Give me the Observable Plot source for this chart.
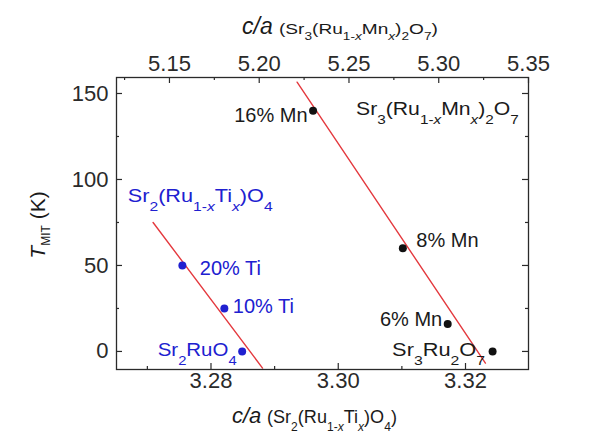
<!DOCTYPE html>
<html><head><meta charset="utf-8">
<script src="https://cdn.jsdelivr.net/npm/d3@7"></script>
<script src="https://cdn.jsdelivr.net/npm/@observablehq/plot@0.6"></script>
<style>
html,body{margin:0;padding:0;background:#fff;}
#chart{width:606px;height:443px;}
svg text{white-space:pre;}
</style></head><body><div id="chart"></div>
<script>
// ---- Data ----
const mnLabels = ["16% Mn", "8% Mn", "6% Mn", "Sr_{3}Ru_{2}O_{7}"];
const mnCA = [5.230, 5.280, 5.305, 5.330];      // top axis c/a (Sr3(Ru1-xMnx)2O7)
const mnT = [140, 60, 16, 0];
const tiLabels = ["20% Ti", "10% Ti", "Sr_{2}RuO_{4}"];
const tiCA = [3.2755, 3.2821, 3.2849];          // bottom axis c/a (Sr2(Ru1-xTix)O4)
const tiT = [50, 25, 0];
const mnFitCA = [5.2211, 5.3260];
const mnFitT = [156.6, -6.8];
const tiFitCA = [3.2709, 3.2881];
const tiFitT = [75, -9.7];
const bottomTicks = [3.28, 3.30, 3.32];
const bottomMinor = [3.27, 3.29, 3.31];
const topTicks = [5.15, 5.20, 5.25, 5.30, 5.35];
const topMinor = [5.125, 5.175, 5.225, 5.275, 5.325];
const yTicks = [0, 50, 100, 150];
const yMinor = [25, 75, 125];
const bottomDomain = [3.26515, 3.3299];
const topDomain = [5.1205, 5.35];
const yDomain = [-10.5, 159.3];
const mnTitle = "Sr_{3}(Ru_{1-*x*}Mn_{*x*})_{2}O_{7}";
const tiTitle = "Sr_{2}(Ru_{1-*x*}Ti_{*x*})O_{4}";
const topAxisTitle = "(Sr_{3}(Ru_{1-*x*}Mn_{*x*})_{2}O_{7})";
const bottomAxisTitle = "(Sr_{2}(Ru_{1-*x*}Ti_{*x*})O_{4})";

// ---- Helpers ----
const toBottom = v => bottomDomain[0] + (v - topDomain[0]) * (bottomDomain[1] - bottomDomain[0]) / (topDomain[1] - topDomain[0]);
const toTop = v => topDomain[0] + (v - bottomDomain[0]) * (topDomain[1] - topDomain[0]) / (bottomDomain[1] - bottomDomain[0]);
const FONT = "'Liberation Sans', Arial, Helvetica, sans-serif";
const ink = "#2a2a2a";
const blue = "#2020d0";
const red = "#e4393e";

const W = 606, H = 443, mL = 116, mR = 78, mT = 77, mB = 74;
const pw = W - mL - mR, ph = H - mT - mB;

const mn = mnCA.map((c, i) => ({x: toBottom(c), y: mnT[i], label: mnLabels[i]}));
const ti = tiCA.map((c, i) => ({x: c, y: tiT[i], label: tiLabels[i]}));
const mnFit = mnFitCA.map((c, i) => ({x: toBottom(c), y: mnFitT[i]}));
const tiFit = tiFitCA.map((c, i) => ({x: c, y: tiFitT[i]}));

const tickFont = 22;
const plot = Plot.plot({
  width: W, height: H,
  marginLeft: mL, marginRight: mR, marginTop: mT, marginBottom: mB,
  style: {fontFamily: FONT, fontSize: tickFont + "px", background: "white", color: ink},
  x: {domain: bottomDomain, label: null},
  y: {domain: yDomain, label: null},
  marks: [
    Plot.line(mnFit, {x: "x", y: "y", stroke: red, strokeWidth: 1.4}),
    Plot.line(tiFit, {x: "x", y: "y", stroke: red, strokeWidth: 1.4}),
    Plot.dot(mn, {x: "x", y: "y", r: 4, fill: "#111", stroke: "none"}),
    Plot.dot(ti, {x: "x", y: "y", r: 4, fill: blue, stroke: "none"}),
    Plot.frame({stroke: ink, strokeWidth: 1.3}),
    Plot.ruleX(bottomTicks, {insetTop: ph - 6, stroke: ink, strokeWidth: 1.2}),
    Plot.ruleX(bottomMinor, {insetTop: ph - 3, stroke: ink, strokeWidth: 1.2}),
    Plot.ruleX(topTicks.map(toBottom), {insetBottom: ph - 6, stroke: ink, strokeWidth: 1.2}),
    Plot.ruleX(topMinor.map(toBottom), {insetBottom: ph - 3, stroke: ink, strokeWidth: 1.2}),
    Plot.ruleY(yTicks, {insetRight: pw - 6, stroke: ink, strokeWidth: 1.2}),
    Plot.ruleY(yMinor, {insetRight: pw - 3, stroke: ink, strokeWidth: 1.2}),
    Plot.ruleY(yTicks, {insetLeft: pw - 6, stroke: ink, strokeWidth: 1.2}),
    Plot.ruleY(yMinor, {insetLeft: pw - 3, stroke: ink, strokeWidth: 1.2}),
    Plot.axisX(bottomTicks, {anchor: "bottom", tickSize: 0, tickPadding: 3, tickFormat: d => d.toFixed(2), label: null, fill: ink, fontSize: tickFont}),
    Plot.axisX(topTicks.map(toBottom), {anchor: "top", tickSize: 0, tickPadding: 7, tickFormat: d => toTop(d).toFixed(2), label: null, fill: ink, fontSize: tickFont}),
    Plot.axisY(yTicks, {anchor: "left", tickSize: 0, tickPadding: 8, tickFormat: d => String(d), label: null, fill: ink, fontSize: tickFont})
  ]
});
document.getElementById("chart").appendChild(plot);

const svg = d3.select(plot);
const sx = plot.scale("x"), sy = plot.scale("y");

function parse(str) {
  const out = [];
  str.split(/(_\{[^}]*\})/).forEach(part => {
    if (!part) return;
    let sub = false, s = part;
    if (part.startsWith("_{")) { sub = true; s = part.slice(2, -1); }
    s.split(/(\*[^*]*\*)/).forEach(p => {
      if (!p) return;
      const it = p.startsWith("*");
      out.push([it ? p.slice(1, -1) : p, (sub ? "s" : "") + (it ? "i" : "")]);
    });
  });
  return out;
}

function rich(str, {x, y, size, sub, drop, fill = ink, anchor = "start", width = null, rotate = 0, italic = false}) {
  const segs = parse(str);
  const g = svg.append("g").attr("text-anchor", "start");
  const t = g.append("text").attr("fill", fill).attr("font-size", size)
    .attr("font-family", FONT).attr("text-anchor", "start").attr("x", 0).attr("y", 0);
  if (italic) t.attr("font-style", "italic");
  let off = 0;
  for (const [s, st] of segs) {
    const isSub = st.includes("s"), isIt = st.includes("i");
    const target = isSub ? drop : 0;
    const ts = t.append("tspan").text(s).attr("font-size", isSub ? sub : size).attr("dy", target - off);
    if (isIt) ts.attr("font-style", "italic");
    off = target;
  }
  const w0 = t.node().getComputedTextLength();
  const k = width ? width / w0 : 1;
  const w = w0 * k;
  const shift = anchor === "end" ? -w : anchor === "middle" ? -w / 2 : 0;
  g.attr("transform", `translate(${x},${y}) rotate(${rotate}) translate(${shift},0) scale(${k},1)`);
}

// point annotations (offsets in px from their dot)
const mnPlace = [
  {dx: -5, dy: 12, anchor: "end"},
  {dx: 14, dy: -1, anchor: "start"},
  {dx: -5, dy: 3, anchor: "end"},
  {dx: -7, dy: 5, anchor: "end", width: 93}
];
const tiPlace = [
  {dx: 18, dy: 10, anchor: "start"},
  {dx: 9, dy: 5, anchor: "start"},
  {dx: -5, dy: 5, anchor: "end", width: 79}
];
function annotate(points, place, fill) {
  points.forEach((d, i) => {
    const p = place[i];
    const hasSub = d.label.includes("_{");
    rich(d.label, {
      x: sx.apply(d.x) + p.dx, y: sy.apply(d.y) + p.dy,
      size: hasSub ? 18 : 20, sub: 13, drop: 9, fill, anchor: p.anchor, width: p.width || null
    });
  });
}
annotate(mn, mnPlace, "#1a1a1a");
annotate(ti, tiPlace, blue);

// series titles inside the frame
rich(mnTitle, {x: sx.apply(toBottom(5.2542)), y: sy.apply(137.2), size: 18, sub: 13, drop: 9, fill: "#1a1a1a", width: 163});
rich(tiTitle, {x: sx.apply(3.2670), y: sy.apply(86.8), size: 18, sub: 13, drop: 9, fill: blue, width: 145});

// axis titles
rich("c/a", {x: 242, y: 34, size: 23, sub: 12, drop: 6, italic: true, fill: "#1a1a1a"});
rich(topAxisTitle, {x: 279, y: 34, size: 14, sub: 10, drop: 6, fill: "#1a1a1a", width: 159});
rich("c/a", {x: 232, y: 423, size: 22, sub: 12, drop: 6, italic: true, fill: "#1a1a1a"});
rich(bottomAxisTitle, {x: 267, y: 423, size: 18, sub: 12, drop: 8, fill: "#1a1a1a", width: 130});
rich("*T*_{MIT} (K)", {x: 45, y: 225, size: 21, sub: 12, drop: 5, fill: "#1a1a1a", anchor: "middle", rotate: -90});
</script></body></html>
